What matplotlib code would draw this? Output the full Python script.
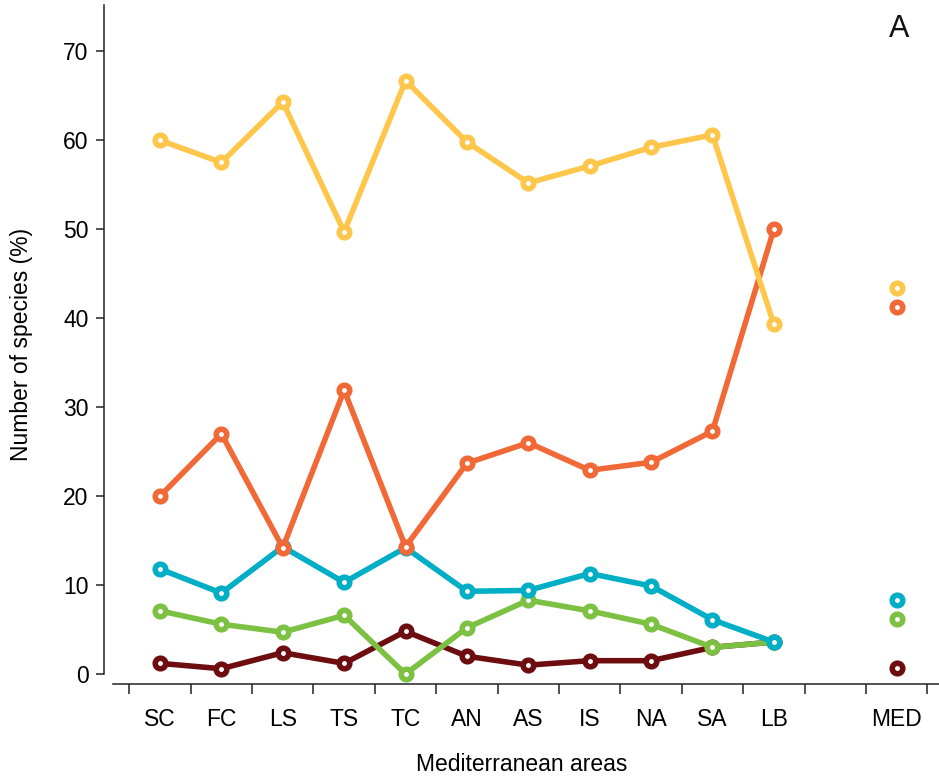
#!/usr/bin/env python3
import matplotlib
matplotlib.use("Agg")
import matplotlib.pyplot as plt
import numpy as np

areas = ["SC", "FC", "LS", "TS", "TC", "AN", "AS", "IS", "NA", "SA", "LB"]
area_pos = np.arange(1, len(areas) + 1)
med_pos = 13

# values per area, last one is MED
yellow_vals = [60.0, 57.5, 64.3, 49.7, 66.7, 59.8, 55.2, 57.1, 59.2, 60.6, 39.3, 43.4]
orange_vals = [20.0, 27.0, 14.2, 31.9, 14.3, 23.7, 26.0, 22.9, 23.8, 27.3, 50.0, 41.3]
cyan_vals = [11.8, 9.1, 14.3, 10.3, 14.2, 9.3, 9.4, 11.3, 9.9, 6.1, 3.6, 8.3]
green_vals = [7.1, 5.6, 4.7, 6.6, 0.0, 5.2, 8.3, 7.1, 5.6, 3.0, 3.6, 6.2]
darkred_vals = [1.2, 0.6, 2.4, 1.2, 4.8, 2.0, 1.0, 1.5, 1.5, 3.0, 3.6, 0.7]

plt.rcParams["font.family"] = ["Liberation Sans", "DejaVu Sans"]

fig = plt.figure(figsize=(9.39, 7.77), dpi=100)
ax = fig.add_axes([104 / 939, 93 / 777, 835 / 939, 679 / 777])

series = [
    (darkred_vals, "#6e0d10"),
    (green_vals, "#7dc142"),
    (cyan_vals, "#00aec5"),
    (orange_vals, "#f26938"),
    (yellow_vals, "#ffc64c"),
]
for vals, color in series:
    style = dict(color=color, marker="o", markersize=7.6, markeredgewidth=4.0,
                 markerfacecolor="white", markeredgecolor=color)
    ax.plot(area_pos, vals[:-1], linewidth=4.0, **style)
    ax.plot([med_pos], [vals[-1]], linestyle="none", **style)

ax.set_xlim(0.088, 13.69)
ax.set_ylim(-1.12, 75.2)

for side in ["top", "right"]:
    ax.spines[side].set_visible(False)
ax.spines["left"].set_bounds(0, 75.2)
ax.spines["bottom"].set_bounds(0.24, 13.69)
for side in ["left", "bottom"]:
    ax.spines[side].set_linewidth(1.1)
    ax.spines[side].set_color("#222222")

ax.set_yticks(np.arange(0, 71, 10))
ax.tick_params(axis="y", length=6, width=1.1, color="#222222", pad=5, labelsize=16.5)

ax.set_xticks(list(area_pos) + [med_pos])
ax.set_xticklabels(areas + ["MED"])
ax.set_xticks(np.arange(0.5, 14, 1), minor=True)
ax.tick_params(axis="x", which="major", length=0, pad=17, labelsize=16.5)
ax.tick_params(axis="x", which="minor", length=7, width=1.1, color="#222222")

ax.set_xlabel("Mediterranean areas", fontsize=16.5, labelpad=16)
ax.set_ylabel("Number of species (%)", fontsize=16.5, labelpad=22)

ax.text(0.952, 0.965, "A", transform=ax.transAxes, fontsize=22,
        ha="center", va="center", color="#111111")

fig.savefig("out.png", dpi=100)
